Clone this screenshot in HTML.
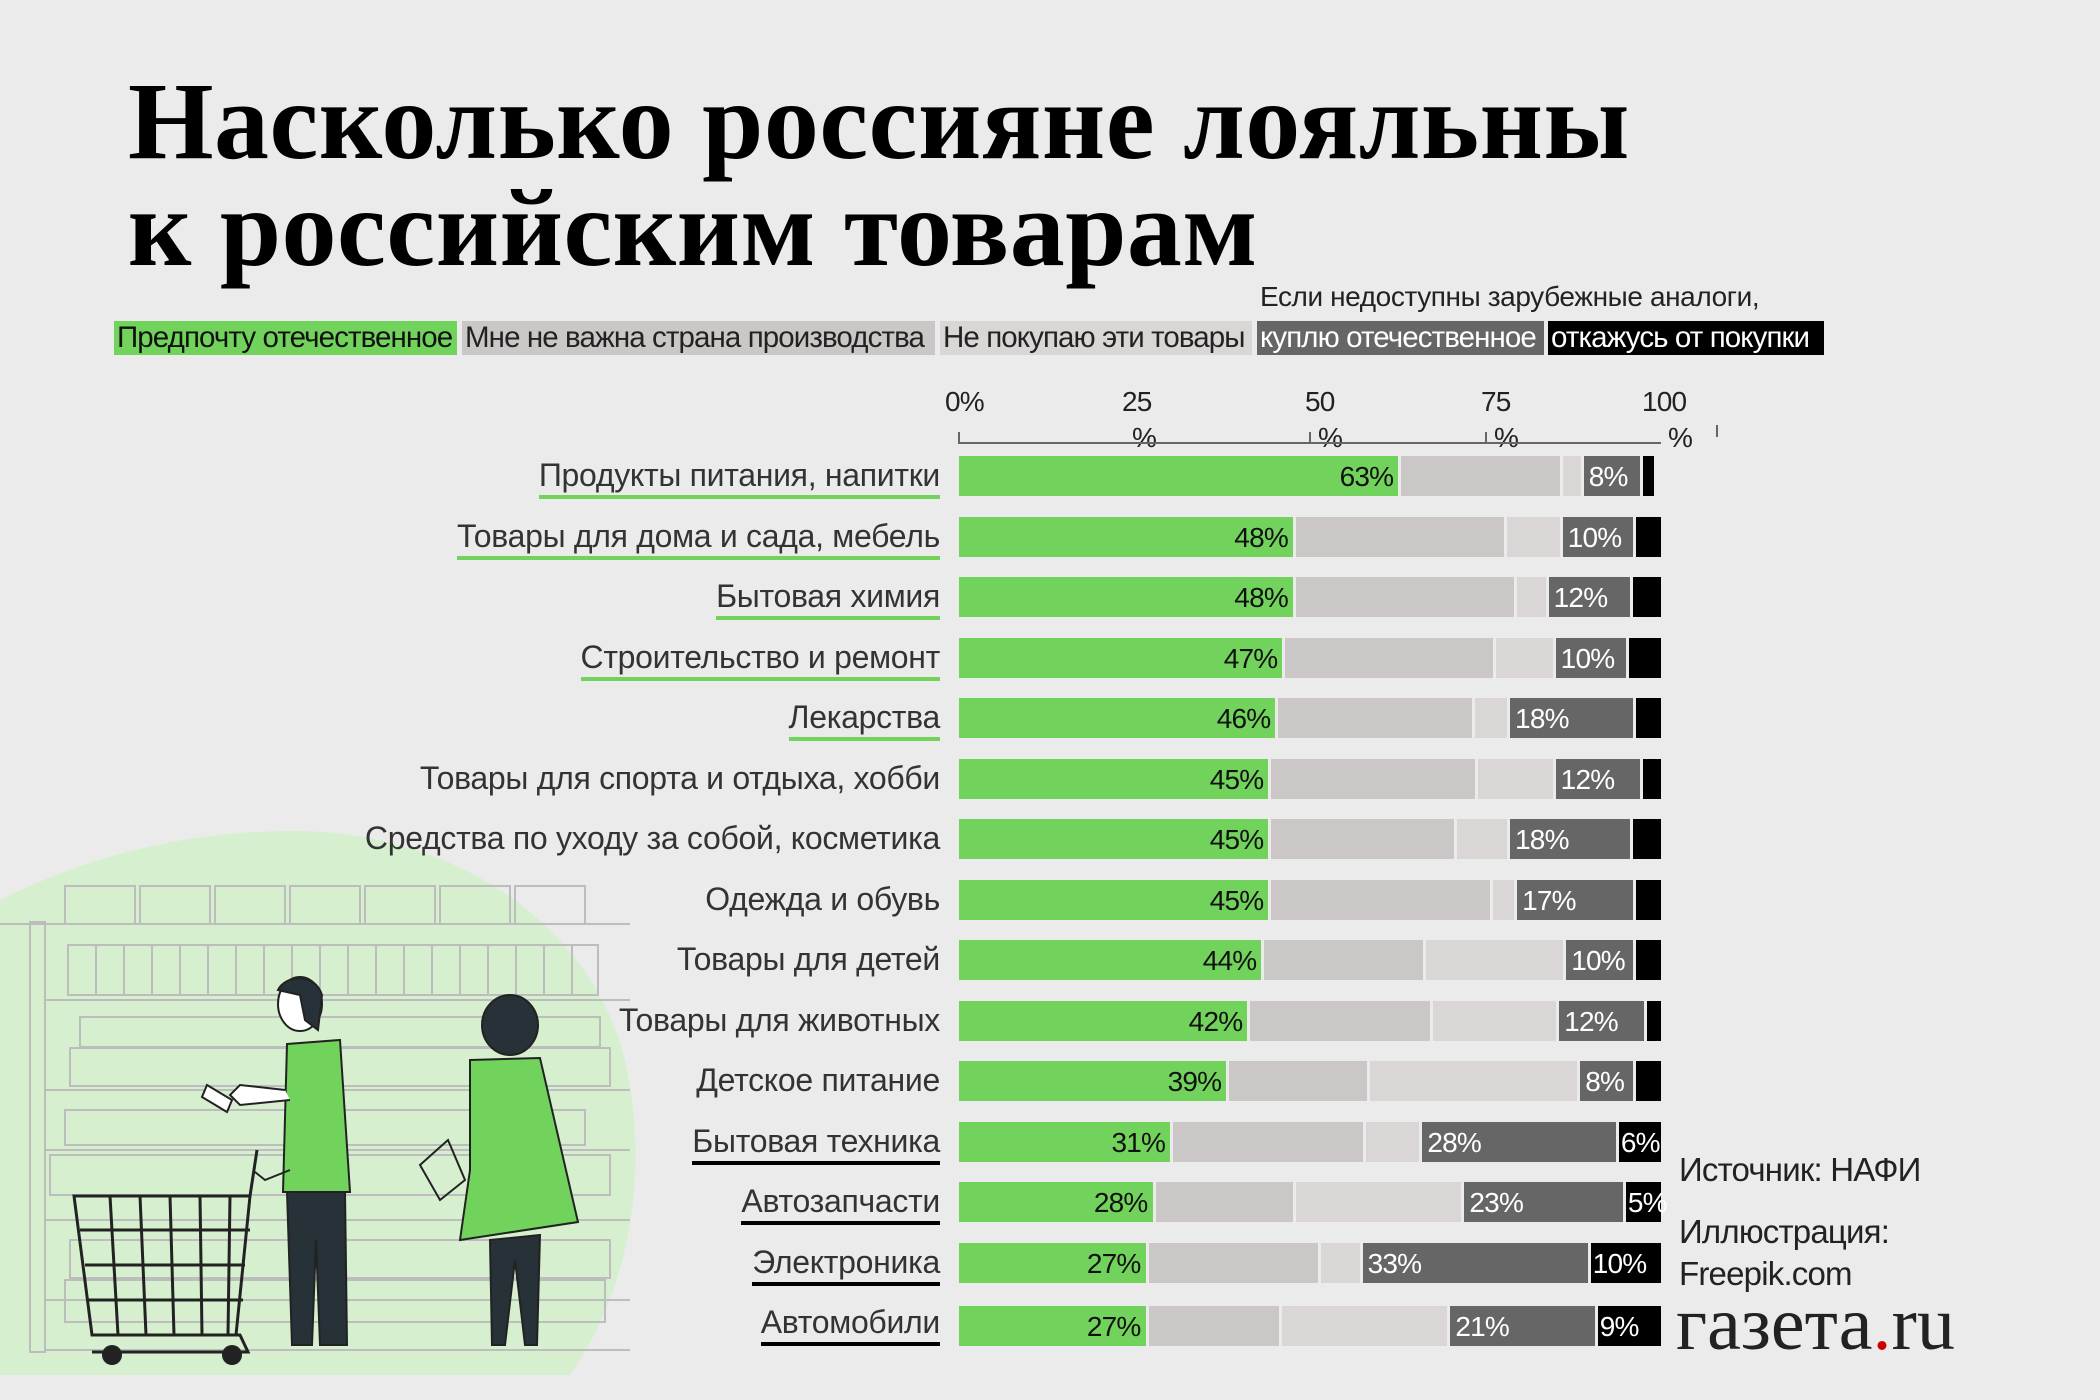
<!DOCTYPE html>
<html><head><meta charset="utf-8">
<style>
body{margin:0;width:2100px;height:1400px;background:#ebebeb;position:relative;overflow:hidden;font-family:"Liberation Sans",sans-serif}
.a{position:absolute;white-space:nowrap}
.t{font-family:"Liberation Serif",serif;font-weight:bold;font-size:110px;left:128px;line-height:1;color:#000;letter-spacing:0.5px}
.lg{top:321px;height:34px;line-height:34px;font-size:29.5px;letter-spacing:-0.9px;padding:0 3px;box-sizing:border-box;overflow:hidden}
.row{position:absolute;left:959px;height:40px;display:flex;width:710px}
.row div{flex:none;height:40px;margin-right:3px;font-size:28px;letter-spacing:-0.8px;line-height:42px;box-sizing:border-box;overflow:visible;white-space:nowrap}
.g{background:#72d35c;text-align:right;padding-right:5px;color:#111}
.c1{background:#cbc7c6}.c2{background:#d9d6d5}
.d{background:#666;color:#fff;padding-left:5px}
.k{background:#000;color:#fff;padding-left:2px;margin-right:0!important}
.lab{position:absolute;right:1160px;font-size:32px;letter-spacing:-0.3px;color:#333;line-height:40px;text-align:right}
.ug{border-bottom:4px solid #72d35c}.ub{border-bottom:4px solid #000}
.tk{font-size:28px;color:#222;letter-spacing:-0.8px}
</style></head><body>
<svg class="a" style="left:0;top:0" width="700" height="1400">
<path d="M0 900 C100 850 200 830 300 831 C450 833 590 920 625 1060 C650 1170 630 1290 570 1375 L0 1375 Z" fill="#d6f0cf"/>
<g stroke="#bdbdbd" stroke-width="2" fill="none">
<line x1="0" y1="924" x2="630" y2="924"/><line x1="45" y1="1000" x2="630" y2="1000"/><line x1="45" y1="1090" x2="630" y2="1090"/><line x1="45" y1="1150" x2="630" y2="1150"/><line x1="45" y1="1220" x2="630" y2="1220"/><line x1="45" y1="1300" x2="630" y2="1300"/><line x1="45" y1="1350" x2="630" y2="1350"/>
<rect x="30" y="922" width="15" height="430"/>
<rect x="65" y="886" width="70" height="38"/><rect x="140" y="886" width="70" height="38"/><rect x="215" y="886" width="70" height="38"/><rect x="290" y="886" width="70" height="38"/><rect x="365" y="886" width="70" height="38"/><rect x="440" y="886" width="70" height="38"/><rect x="515" y="886" width="70" height="38"/>
<path d="M68 945h530v50h-530z M96 945v50 M124 945v50 M152 945v50 M180 945v50 M208 945v50 M236 945v50 M264 945v50 M292 945v50 M320 945v50 M348 945v50 M376 945v50 M404 945v50 M432 945v50 M460 945v50 M488 945v50 M516 945v50 M544 945v50 M572 945v50"/>
<path d="M80 1017h520v30h-520z M70 1048h540v38h-540z"/>
<path d="M65 1110h520v35h-520z M50 1155h560v40h-560z M70 1240h540v38h-540z M65 1280h540v42h-540z"/>
</g>
<g stroke="#222" stroke-width="3" fill="none">
<path d="M74 1196 L250 1196 L236 1335 L92 1335 Z"/>
<path d="M80 1230h170 M85 1265h160 M88 1300h155 M110 1196l8 139 M140 1196l6 139 M170 1196l4 139 M200 1196l2 139 M230 1196l-2 139"/>
<path d="M95 1335 L240 1335 L248 1352 L92 1352 M250 1196 L257 1150"/>
</g>
<circle cx="112" cy="1355" r="10" fill="#222"/><circle cx="232" cy="1355" r="10" fill="#222"/>
<g stroke="#222" stroke-width="2">
<path d="M287 1044 L340 1040 L350 1192 L283 1192 Z" fill="#72d35c"/>
<path d="M287 1192 L345 1192 L347 1345 L320 1345 L316 1240 L312 1345 L292 1345 Z" fill="#263238"/>
<path d="M290 1100 L240 1105 L230 1095 L240 1085 L285 1090" fill="#fff"/>
<path d="M290 1170 L265 1180 L255 1172" fill="none"/>
<ellipse cx="300" cy="1004" rx="22" ry="27" fill="#fff"/>
<path d="M278 990 C285 975 315 972 322 995 L318 1030 L305 1020 L300 995 Z" fill="#263238"/>
<path d="M207 1085 l25 15 -5 12 -25 -15z" fill="#fff"/>
<path d="M470 1060 L540 1058 L578 1222 L460 1240 L470 1170 Z" fill="#72d35c"/>
<path d="M490 1240 L540 1235 L537 1345 L525 1345 L515 1260 L505 1345 L492 1345 Z" fill="#263238"/>
<ellipse cx="510" cy="1025" rx="28" ry="30" fill="#263238"/>
<path d="M420 1165 L448 1140 L465 1180 L440 1200 Z" fill="none"/>
</g>
</svg>
<div class="a t" style="top:66px">Насколько россияне лояльны</div>
<div class="a t" style="top:173px">к российским товарам</div>
<div class="a" style="left:1260px;top:281px;font-size:28px;letter-spacing:-0.4px;color:#222">Если недоступны зарубежные аналоги,</div>
<div class="a lg" style="left:114px;width:343px;background:#72d35c;color:#111">Предпочту отечественное</div>
<div class="a lg" style="left:462px;width:473px;background:#cbc7c6;color:#222">Мне не важна страна производства</div>
<div class="a lg" style="left:940px;width:312px;background:#d9d6d5;color:#222">Не покупаю эти товары</div>
<div class="a lg" style="left:1257px;width:287px;background:#666;color:#fff">куплю отечественное</div>
<div class="a lg" style="left:1548px;width:276px;background:#000;color:#fff">откажусь от покупки</div>
<div class="a tk" style="left:945px;top:386px">0%</div>
<div class="a tk" style="left:1122px;top:386px">25</div><div class="a tk" style="left:1132px;top:422px">%</div>
<div class="a tk" style="left:1305px;top:386px">50</div><div class="a tk" style="left:1318px;top:422px">%</div>
<div class="a tk" style="left:1481px;top:386px">75</div><div class="a tk" style="left:1494px;top:422px">%</div>
<div class="a tk" style="left:1642px;top:386px">100</div><div class="a tk" style="left:1668px;top:422px">%</div>
<div class="a" style="left:958px;top:442px;width:703px;height:2px;background:#666"></div>
<div class="a" style="left:958px;top:432px;width:2px;height:12px;background:#666"></div>
<div class="a" style="left:1309px;top:432px;width:2px;height:12px;background:#666"></div>
<div class="a" style="left:1485px;top:432px;width:2px;height:12px;background:#666"></div>
<div class="a" style="left:1716px;top:425px;width:2px;height:12px;background:#666"></div>

<div class="lab ug" style="top:455px">Продукты питания, напитки</div>
<div class="row" style="top:456px"><div class="g" style="width:calc(63*7.02px - 3px)">63%</div><div class="c1" style="width:calc(23*7.02px - 3px)"></div><div class="c2" style="width:calc(3*7.02px - 3px)"></div><div class="d" style="width:calc(8.5*7.02px - 3px)">8%</div><div class="k" style="width:calc(1.5*7.02px)"></div></div>
<div class="lab ug" style="top:516px">Товары для дома и сада, мебель</div>
<div class="row" style="top:517px"><div class="g" style="width:calc(48*7.02px - 3px)">48%</div><div class="c1" style="width:calc(30*7.02px - 3px)"></div><div class="c2" style="width:calc(8*7.02px - 3px)"></div><div class="d" style="width:calc(10.5*7.02px - 3px)">10%</div><div class="k" style="width:calc(3.5*7.02px)"></div></div>
<div class="lab ug" style="top:576px">Бытовая химия</div>
<div class="row" style="top:577px"><div class="g" style="width:calc(48*7.02px - 3px)">48%</div><div class="c1" style="width:calc(31.5*7.02px - 3px)"></div><div class="c2" style="width:calc(4.5*7.02px - 3px)"></div><div class="d" style="width:calc(12*7.02px - 3px)">12%</div><div class="k" style="width:calc(4*7.02px)"></div></div>
<div class="lab ug" style="top:637px">Строительство и ремонт</div>
<div class="row" style="top:638px"><div class="g" style="width:calc(46.5*7.02px - 3px)">47%</div><div class="c1" style="width:calc(30*7.02px - 3px)"></div><div class="c2" style="width:calc(8.5*7.02px - 3px)"></div><div class="d" style="width:calc(10.5*7.02px - 3px)">10%</div><div class="k" style="width:calc(4.5*7.02px)"></div></div>
<div class="lab ug" style="top:697px">Лекарства</div>
<div class="row" style="top:698px"><div class="g" style="width:calc(45.5*7.02px - 3px)">46%</div><div class="c1" style="width:calc(28*7.02px - 3px)"></div><div class="c2" style="width:calc(5*7.02px - 3px)"></div><div class="d" style="width:calc(18*7.02px - 3px)">18%</div><div class="k" style="width:calc(3.5*7.02px)"></div></div>
<div class="lab" style="top:758px">Товары для спорта и отдыха, хобби</div>
<div class="row" style="top:759px"><div class="g" style="width:calc(44.5*7.02px - 3px)">45%</div><div class="c1" style="width:calc(29.5*7.02px - 3px)"></div><div class="c2" style="width:calc(11*7.02px - 3px)"></div><div class="d" style="width:calc(12.5*7.02px - 3px)">12%</div><div class="k" style="width:calc(2.5*7.02px)"></div></div>
<div class="lab" style="top:818px">Средства по уходу за собой, косметика</div>
<div class="row" style="top:819px"><div class="g" style="width:calc(44.5*7.02px - 3px)">45%</div><div class="c1" style="width:calc(26.5*7.02px - 3px)"></div><div class="c2" style="width:calc(7.5*7.02px - 3px)"></div><div class="d" style="width:calc(17.5*7.02px - 3px)">18%</div><div class="k" style="width:calc(4*7.02px)"></div></div>
<div class="lab" style="top:879px">Одежда и обувь</div>
<div class="row" style="top:880px"><div class="g" style="width:calc(44.5*7.02px - 3px)">45%</div><div class="c1" style="width:calc(31.5*7.02px - 3px)"></div><div class="c2" style="width:calc(3.5*7.02px - 3px)"></div><div class="d" style="width:calc(17*7.02px - 3px)">17%</div><div class="k" style="width:calc(3.5*7.02px)"></div></div>
<div class="lab" style="top:939px">Товары для детей</div>
<div class="row" style="top:940px"><div class="g" style="width:calc(43.5*7.02px - 3px)">44%</div><div class="c1" style="width:calc(23*7.02px - 3px)"></div><div class="c2" style="width:calc(20*7.02px - 3px)"></div><div class="d" style="width:calc(10*7.02px - 3px)">10%</div><div class="k" style="width:calc(3.5*7.02px)"></div></div>
<div class="lab" style="top:1000px">Товары для животных</div>
<div class="row" style="top:1001px"><div class="g" style="width:calc(41.5*7.02px - 3px)">42%</div><div class="c1" style="width:calc(26*7.02px - 3px)"></div><div class="c2" style="width:calc(18*7.02px - 3px)"></div><div class="d" style="width:calc(12.5*7.02px - 3px)">12%</div><div class="k" style="width:calc(2*7.02px)"></div></div>
<div class="lab" style="top:1060px">Детское питание</div>
<div class="row" style="top:1061px"><div class="g" style="width:calc(38.5*7.02px - 3px)">39%</div><div class="c1" style="width:calc(20*7.02px - 3px)"></div><div class="c2" style="width:calc(30*7.02px - 3px)"></div><div class="d" style="width:calc(8*7.02px - 3px)">8%</div><div class="k" style="width:calc(3.5*7.02px)"></div></div>
<div class="lab ub" style="top:1121px">Бытовая техника</div>
<div class="row" style="top:1122px"><div class="g" style="width:calc(30.5*7.02px - 3px)">31%</div><div class="c1" style="width:calc(27.5*7.02px - 3px)"></div><div class="c2" style="width:calc(8*7.02px - 3px)"></div><div class="d" style="width:calc(28*7.02px - 3px)">28%</div><div class="k" style="width:calc(6*7.02px)">6%</div></div>
<div class="lab ub" style="top:1181px">Автозапчасти</div>
<div class="row" style="top:1182px"><div class="g" style="width:calc(28*7.02px - 3px)">28%</div><div class="c1" style="width:calc(20*7.02px - 3px)"></div><div class="c2" style="width:calc(24*7.02px - 3px)"></div><div class="d" style="width:calc(23*7.02px - 3px)">23%</div><div class="k" style="width:calc(5*7.02px)">5%</div></div>
<div class="lab ub" style="top:1242px">Электроника</div>
<div class="row" style="top:1243px"><div class="g" style="width:calc(27*7.02px - 3px)">27%</div><div class="c1" style="width:calc(24.5*7.02px - 3px)"></div><div class="c2" style="width:calc(6*7.02px - 3px)"></div><div class="d" style="width:calc(32.5*7.02px - 3px)">33%</div><div class="k" style="width:calc(10*7.02px)">10%</div></div>
<div class="lab ub" style="top:1302px">Автомобили</div>
<div class="row" style="top:1306px"><div class="g" style="width:calc(27*7.02px - 3px)">27%</div><div class="c1" style="width:calc(19*7.02px - 3px)"></div><div class="c2" style="width:calc(24*7.02px - 3px)"></div><div class="d" style="width:calc(21*7.02px - 3px)">21%</div><div class="k" style="width:calc(9*7.02px)">9%</div></div>

<div class="a" style="left:1679px;top:1151px;font-size:33px;letter-spacing:-0.8px;color:#222">Источник: НАФИ</div>
<div class="a" style="left:1679px;top:1213px;font-size:33px;letter-spacing:-0.8px;color:#222">Иллюстрация:</div>
<div class="a" style="left:1679px;top:1255px;font-size:33px;letter-spacing:-0.8px;color:#222">Freepik.com</div>
<div class="a" style="left:1676px;top:1286px;font-family:'Liberation Serif',serif;font-size:76px;color:#222;line-height:1">газета<span style="color:#c00">.</span>ru</div>
</body></html>
